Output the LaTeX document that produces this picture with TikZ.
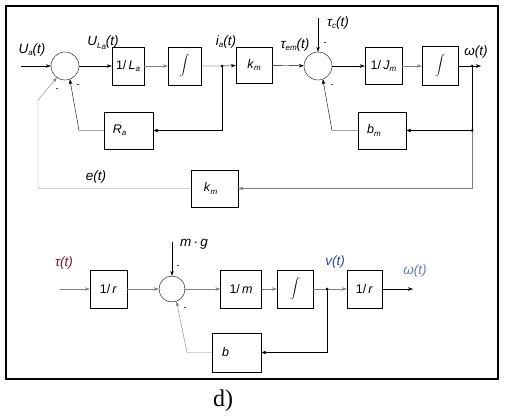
\documentclass[tikz,border=0pt]{standalone}
\usepackage{fontspec}
\setmainfont{Liberation Sans}
\newfontfamily\capfont{Liberation Serif}
\usetikzlibrary{arrows.meta}

\definecolor{labelblue}{RGB}{40,70,150}
\definecolor{labelred}{RGB}{120,20,40}
\newcommand{\lowidx}[1]{\raisebox{-0.35ex}{\footnotesize\textit{#1}}}

\begin{document}
\begin{tikzpicture}[x=1pt, y=-1pt, >={Stealth[length=5pt, width=3.5pt]},
  block/.style = {draw, minimum width=36pt, minimum height=38pt, inner sep=0pt, font=\fontsize{12.5}{14}\selectfont},
  sumnode/.style = {draw, circle, minimum size=28pt, inner sep=0pt},
  sig/.style = {font=\fontsize{13.5}{15}\selectfont\itshape, inner sep=0pt},
  minus/.style = {font=\small, inner sep=0pt}]
  \useasboundingbox (0,0) rectangle (505,415);
  \draw[line width=2pt] (6,6) rectangle (498,379);

  % motor
  \node[sumnode] (sA) at (65,66) {};
  \node[block, minimum width=32pt] (La) at (128,66) {1/\,\textit{L}\lowidx{a}};
  \node[block, minimum width=33pt] (intA) at (184.5,66) {$\displaystyle\int$};
  \node[block, minimum height=36pt] (kmA) at (254,65) {\textit{k}\lowidx{m}};
  \node[sumnode] (sB) at (318,66) {};
  \node[block, minimum width=37pt, minimum height=37pt] (Jm) at (383.5,66) {1/\,\textit{J}\lowidx{m}};
  \node[block, minimum height=39pt] (intB) at (440,66) {$\displaystyle\int$};
  \node[block, minimum width=49pt, minimum height=37pt] (Ra) at (128.5,130.5) {\textit{R}\lowidx{a}\hspace*{18pt}};
  \node[block, minimum width=48pt, minimum height=37pt] (bm) at (382,130.5) {\textit{b}\lowidx{m}\hspace*{16pt}};
  \node[block, minimum width=47pt, minimum height=37pt] (kmB) at (214.5,188.5) {\textit{k}\lowidx{m}\hspace*{8pt}};

  \coordinate (inA) at (21,66);
  \coordinate (jI) at (222,66);
  \coordinate (tauc) at (318,18);
  \coordinate (jW) at (472,66);
  \coordinate (jW2) at (472,130.5);
  \coordinate (outA) at (481,66);

  \node[sig] (lUa) at (32,50) {U\lowidx{a}(t)};
  \node[sig] (lULa) at (103,43) {U\raisebox{-0.35ex}{\footnotesize\textit{L\lowidx{a}}}(t)};
  \node[sig] (lia) at (226,42) {i\lowidx{a}(t)};
  \node[sig] (ltem) at (295,45) {τ\lowidx{em}(t)};
  \node[sig] (ltc) at (338,23) {τ\lowidx{c}(t)};
  \node[sig] (lwA) at (476,52) {ω(t)};
  \node[sig] (le) at (96,177) {e(t)};

  \draw[->] (inA) -- (sA);
  \draw[->] (sA) -- (La);
  \draw[->, gray] (La) -- (intA);
  \draw[->] (intA) -- (jI) -- (kmA);
  \draw[->] (kmA) -- (sB);
  \draw[->] (tauc) -- (sB);
  \draw[->] (sB) -- (Jm);
  \draw[->, gray] (Jm) -- (intB);
  \draw[->] (intB) -- (outA);
  \draw[->] (jI) |- (Ra);
  \draw[->] (Ra.west) -- (79,130.5) -- (sA.-70);
  \draw (jW) -- (jW2);
  \draw[->] (jW2) -- (bm);
  \draw[->] (bm.west) -- (332,130.5) -- (sB.-70);
  \draw[->, gray] (jW2) |- (kmB);
  \draw[->, gray] (kmB.west) -- (38,188.5) -- (38,100) -- (sA.-125);
  \fill (jI) circle (1.5pt);
  \fill (jW) circle (1.5pt);
  \fill (jW2) circle (1.5pt);

  \node[minus] (mA1) at (57,90) {-};
  \node[minus] (mA2) at (78,86) {-};
  \node[minus] (mB1) at (325,44) {-};
  \node[minus] (mB2) at (332,86) {-};

  % wheel
  \node[block, minimum width=37pt] (rA) at (108.5,289) {1/\,\textit{r}};
  \node[sumnode, minimum size=26pt] (sC) at (172,289) {};
  \node[block, minimum width=41pt] (mB) at (241,289) {1/\,\textit{m}};
  \node[block] (intC) at (295,289) {$\displaystyle\int$};
  \node[block, minimum width=35pt] (rB) at (364.5,289) {1/\,\textit{r}};
  \node[block, minimum width=49pt, minimum height=39pt] (bB) at (236.5,352.5) {\textit{b}\hspace*{22pt}};

  \coordinate (inC) at (60,289);
  \coordinate (mg) at (172,242);
  \coordinate (jV) at (327,289);
  \coordinate (outC) at (413,289);

  \node[sig, text=labelred] (ltau) at (64,263) {τ(t)};
  \node[sig] (lmg) at (194,244) {m\,·\,g};
  \node[sig, text=labelblue] (lv) at (335,262) {v(t)};
  \node[sig, text=labelblue!70] (lwC) at (415,271) {ω(t)};

  \draw[->, gray] (inC) -- (rA);
  \draw[->, gray] (rA) -- (sC);
  \draw[->] (mg) -- (sC);
  \draw[->, gray] (sC) -- (mB);
  \draw[->, gray] (mB) -- (intC);
  \draw[->, gray] (intC) -- (rB);
  \draw[->] (rB) -- (outC);
  \draw[->] (jV) |- (bB);
  \draw[->, gray] (bB.west) -- (187,352.5) -- (sC.-70);
  \fill (jV) circle (1.5pt);

  \node[minus] (mC1) at (178,267) {-};
  \node[minus] (mC2) at (185,309) {-};

  \node[font=\capfont\fontsize{24}{28}\selectfont] (cap) at (223,401) {d)};
\end{tikzpicture}
\end{document}
